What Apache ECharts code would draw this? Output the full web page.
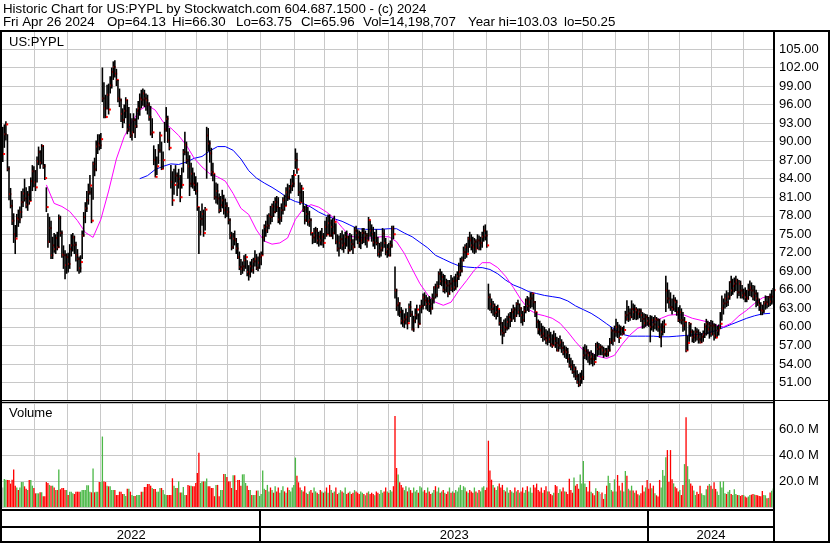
<!DOCTYPE html>
<html><head><meta charset="utf-8">
<script src="https://cdn.jsdelivr.net/npm/echarts/dist/echarts.min.js"></script>
<style>html,body{margin:0;padding:0;background:#fff}#c{width:830px;height:543px}</style>
</head><body><div id="c"></div>
<script>
// ---- Data (daily bars, May 2022 - Apr 26 2024) ----
const highs=[
92.4,92.8,93.3,91.2,86.0,82.5,80.6,78.4,76.5,78.3,
79.0,79.5,82.0,82.4,84.0,82.6,82.0,82.8,84.2,86.2,
86.0,85.4,87.6,89.2,88.6,89.6,89.4,86.4,82.6,78.4,
77.8,77.2,74.6,75.2,75.0,75.4,78.2,78.0,75.6,73.2,
72.4,71.9,72.0,73.4,75.0,75.2,74.8,73.8,72.6,71.4,
71.6,75.6,78.6,80.2,82.0,83.2,84.6,82.6,86.8,87.4,
90.2,91.2,91.2,91.4,102.0,99.6,97.6,99.2,99.4,100.6,
102.0,103.0,103.2,101.8,100.0,98.6,97.0,95.4,96.0,97.2,
96.8,95.6,94.6,93.8,94.6,93.8,95.4,96.6,97.8,98.4,
98.6,98.4,97.8,97.6,96.4,95.8,93.8,89.4,88.8,87.6,
89.6,91.6,90.0,88.4,93.2,95.6,94.2,92.2,86.2,85.2,
85.6,86.2,85.0,85.6,84.6,85.8,88.8,91.6,90.0,88.4,
87.8,86.6,85.8,85.0,84.4,83.4,79.4,78.8,80.0,79.0,
79.4,92.4,92.2,90.2,89.0,86.6,84.8,83.4,83.2,81.6,
81.2,82.2,81.4,80.8,80.2,79.4,77.6,75.4,75.2,75.6,
74.4,73.6,72.2,71.0,70.6,71.6,71.8,70.8,70.0,70.6,
71.0,71.2,72.4,71.8,71.4,72.0,72.2,75.8,76.6,77.2,
78.2,78.4,79.6,80.0,80.4,81.0,81.2,81.0,79.4,80.0,
81.0,81.4,82.6,83.2,83.0,84.0,84.6,85.4,88.9,88.2,
84.6,83.4,83.0,82.0,79.6,79.8,79.4,78.8,77.6,75.2,
76.0,76.2,76.0,75.4,75.6,76.0,75.2,77.2,77.8,78.2,
78.2,77.4,77.6,78.0,76.8,75.0,74.8,75.2,75.6,75.0,
75.4,75.6,74.8,75.2,75.0,74.2,76.2,76.4,75.8,75.6,
75.4,76.0,76.0,75.6,75.2,77.8,77.2,76.6,76.2,75.4,
75.8,74.6,73.6,73.8,76.0,75.8,74.4,73.4,73.6,74.0,
76.4,76.4,69.8,66.2,64.8,64.0,63.2,62.8,62.2,63.0,
62.4,63.8,64.2,62.6,61.8,63.0,63.6,62.2,63.6,64.4,
65.4,65.6,65.2,64.8,65.0,64.6,65.4,66.6,67.0,67.4,
69.0,69.4,69.0,68.6,68.4,67.8,67.6,67.6,68.4,68.0,
68.2,68.6,69.0,70.4,71.2,71.4,73.0,73.4,73.6,74.6,
75.4,75.0,74.6,74.4,74.2,75.0,74.8,74.6,75.4,76.4,
76.6,75.6,67.0,65.4,64.6,64.2,63.8,63.4,63.6,62.8,
61.6,60.8,61.2,61.4,61.8,62.2,62.4,63.0,63.6,63.2,
64.0,64.4,63.8,63.2,62.6,63.4,64.6,65.0,64.8,65.6,
65.6,65.4,64.2,62.4,61.2,61.0,60.6,60.2,60.0,59.6,
59.4,59.8,59.2,58.8,59.4,59.0,58.4,58.2,58.6,58.0,
57.6,57.0,56.8,56.6,55.6,55.0,54.6,54.0,53.6,53.0,
52.4,52.6,53.0,56.8,57.2,57.0,56.4,56.0,56.2,55.8,
55.6,57.4,57.6,57.4,57.2,57.0,56.8,56.6,56.6,57.0,
58.2,60.0,59.6,60.2,61.3,60.8,60.4,60.2,60.0,60.2,
62.6,64.3,63.4,63.0,64.3,63.8,63.6,63.2,63.0,63.0,
63.0,62.4,62.2,62.1,62.0,61.6,61.9,61.8,61.6,61.9,
61.6,61.4,61.3,60.6,61.0,61.2,68.3,67.2,66.0,65.6,
64.6,65.2,64.8,64.4,63.2,63.5,63.0,62.4,61.6,60.8,
58.6,60.8,60.6,59.6,59.4,60.0,59.8,59.6,59.2,59.0,
59.4,60.6,61.3,61.0,60.8,61.1,61.0,60.6,60.5,60.2,
60.4,62.4,65.1,64.6,65.4,65.9,65.6,67.4,68.3,67.8,
68.0,68.3,67.8,67.6,67.5,66.8,66.2,66.4,66.0,67.0,
67.5,67.2,66.8,66.7,66.0,65.6,64.6,64.0,63.6,64.2,
65.1,65.0,65.0,65.4,66.0,66.3];
const lows=[
86.7,89.0,90.2,85.2,80.5,79.2,76.5,73.6,71.8,74.5,
76.2,76.8,77.6,79.4,80.3,79.2,78.8,79.8,80.4,82.0,
82.6,82.0,83.4,86.2,85.6,86.3,85.6,83.8,78.6,72.8,
73.6,71.0,71.0,72.0,71.8,72.4,72.8,74.6,71.2,69.4,
67.7,68.6,68.8,69.4,71.4,72.2,71.8,70.6,69.0,68.6,
68.8,71.0,74.6,76.8,78.6,79.8,81.4,76.8,80.6,84.4,
85.2,88.0,88.6,88.8,96.4,93.8,93.8,95.2,94.4,97.8,
98.6,100.0,100.4,99.0,96.4,95.6,93.2,92.2,93.0,93.8,
91.2,91.6,90.6,90.2,91.4,90.6,92.2,93.6,94.2,95.4,
95.8,95.6,95.0,94.4,93.4,91.0,90.6,86.2,84.2,84.6,
86.4,88.2,85.4,85.6,89.8,91.6,89.8,88.6,82.4,79.6,
81.4,83.4,81.2,82.4,80.2,82.4,85.0,87.8,86.4,84.0,
81.2,82.6,82.4,82.0,81.4,78.8,71.8,74.8,76.4,74.6,
75.6,84.0,88.4,86.6,84.4,83.6,80.6,80.0,79.8,78.4,
78.6,79.2,78.2,77.6,77.8,76.6,74.2,72.4,72.6,73.2,
71.8,71.0,69.2,68.4,68.6,69.0,69.4,68.2,67.5,68.0,
68.8,68.6,69.8,69.2,69.0,69.4,70.0,71.6,73.8,74.6,
75.2,75.8,76.6,77.0,77.8,78.4,78.6,76.8,76.6,77.0,
78.2,78.8,79.6,80.4,80.6,81.6,82.0,82.6,85.6,84.8,
81.2,79.8,80.2,78.6,76.6,77.0,76.4,76.2,74.8,73.4,
73.6,73.6,73.4,73.0,73.2,73.2,72.8,74.2,74.6,75.0,
74.6,74.6,74.2,75.0,73.4,72.2,71.4,72.6,72.4,72.0,
72.6,73.0,71.8,72.2,72.4,71.8,72.8,74.0,73.4,72.8,
72.6,73.4,73.6,73.2,72.8,74.0,74.6,73.8,73.0,72.6,
73.2,71.4,71.2,71.4,72.2,72.8,71.6,71.2,71.4,71.4,
72.8,74.2,64.6,62.6,61.8,61.6,60.4,60.0,59.8,60.4,
59.6,60.8,61.6,59.4,59.2,60.6,61.2,59.8,60.4,62.2,
62.8,63.4,62.8,62.6,62.4,62.0,62.8,63.8,64.6,64.8,
66.2,66.8,66.6,65.6,65.4,65.6,64.8,65.2,65.8,65.6,
65.8,66.0,66.4,67.6,68.2,68.8,70.6,71.0,71.2,72.0,
72.8,72.4,72.0,71.8,72.0,72.6,72.4,72.4,72.8,73.8,
74.0,72.8,62.8,62.6,62.2,61.8,61.6,61.2,61.6,60.2,
58.6,57.2,58.4,59.0,59.4,59.6,60.0,60.8,61.2,60.8,
61.6,62.0,61.6,60.6,60.2,60.8,62.2,62.6,62.4,63.0,
63.2,62.8,61.6,59.8,58.8,58.6,58.2,57.6,57.8,57.2,
57.0,57.4,56.8,56.6,57.0,56.6,56.0,56.0,56.4,55.8,
55.4,55.0,54.8,54.2,53.4,53.0,52.4,51.8,51.4,50.8,
50.25,50.4,50.8,51.4,54.8,54.6,54.2,53.8,54.0,53.6,
53.8,54.6,55.2,55.4,55.4,55.4,55.0,55.2,55.1,55.2,
56.0,57.2,57.0,57.6,58.4,58.2,57.4,58.6,58.6,58.8,
60.5,61.0,60.8,61.0,61.4,61.1,61.2,61.1,61.2,61.4,
60.8,59.7,59.8,60.0,60.2,60.0,57.5,59.4,59.2,59.6,
59.4,59.2,58.2,56.7,58.6,59.0,62.4,63.8,63.0,62.6,
62.0,62.6,62.4,61.8,60.8,60.6,60.4,59.2,59.4,55.9,
56.2,57.6,58.4,57.5,57.4,57.6,57.8,57.3,57.3,57.4,
57.6,58.2,58.6,58.8,58.1,58.4,58.6,57.8,58.1,58.4,
58.6,59.7,61.0,62.0,63.0,63.2,63.4,64.4,65.0,65.2,
65.6,65.8,64.6,65.0,64.6,64.6,64.4,64.0,64.0,64.4,
65.0,64.8,64.3,64.2,63.2,63.4,62.6,61.9,61.9,62.2,
62.8,63.0,63.2,63.4,63.6,63.75];
const closes=[
88.0,91.2,92.8,85.6,81.5,79.6,77.2,75.0,74.3,77.6,
77.4,78.6,80.2,81.6,80.8,79.8,81.4,80.4,83.6,85.2,
83.4,82.6,86.8,88.3,86.6,89.3,86.0,84.1,79.4,73.8,
76.0,71.6,73.2,72.6,74.4,72.9,77.6,75.2,71.7,71.6,
70.0,71.3,70.2,72.6,73.2,74.5,73.3,71.6,71.0,69.5,
70.5,74.8,77.8,79.2,80.5,81.8,82.9,77.2,86.4,85.5,
89.2,89.7,89.4,90.4,97.0,95.4,94.0,97.6,95.2,99.1,
101.3,102.1,101.0,100.0,97.0,96.7,94.5,93.5,95.0,96.7,
92.0,92.7,91.0,91.5,93.5,92.5,95.0,95.4,97.0,96.8,
97.8,97.0,96.7,96.0,94.0,91.3,91.5,87.0,84.3,86.0,
88.6,91.0,85.6,87.0,92.0,93.7,90.2,89.0,83.5,80.5,
83.0,84.5,83.2,84.0,81.0,83.0,88.3,89.5,87.0,86.0,
83.2,84.8,83.2,83.0,82.0,79.4,75.4,77.5,78.3,75.2,
79.0,91.0,89.7,88.1,85.1,84.8,81.0,82.0,80.8,78.9,
79.7,80.5,78.9,79.6,78.6,77.3,74.8,72.9,74.3,74.0,
72.7,71.3,69.7,69.4,69.8,70.8,71.3,68.9,68.6,69.8,
69.2,70.6,71.0,69.6,70.4,71.3,71.6,74.5,76.2,75.6,
76.4,78.0,77.8,79.5,78.6,80.2,79.4,77.4,77.7,78.9,
80.5,79.6,81.8,81.0,82.4,82.8,83.2,84.6,87.0,85.5,
81.8,80.2,82.4,79.0,77.3,78.3,77.0,77.3,75.2,74.5,
74.8,75.6,74.0,74.6,74.0,74.6,73.6,76.2,75.0,76.8,
74.8,76.2,75.2,77.0,73.8,72.7,73.6,74.2,73.2,73.5,
74.6,74.5,72.4,74.0,73.4,72.9,75.6,75.2,74.5,73.6,
74.0,75.2,74.3,74.8,74.0,77.3,75.6,75.0,73.7,74.4,
73.6,71.8,72.4,72.8,75.1,73.6,72.1,72.6,71.6,73.2,
75.9,75.0,65.9,63.5,63.8,62.4,61.0,60.8,61.2,61.6,
60.6,63.2,62.0,59.6,61.0,61.9,62.8,60.5,63.2,63.4,
64.8,64.3,63.7,64.2,63.7,63.0,64.6,66.4,65.2,66.6,
68.6,67.4,68.1,66.0,67.2,66.7,65.4,67.0,66.2,67.4,
66.4,67.5,68.2,68.9,69.1,70.8,72.1,72.9,71.8,74.3,
74.0,73.2,72.9,73.8,72.7,74.0,73.2,73.6,74.6,75.6,
74.8,73.2,64.8,63.7,62.9,63.4,62.2,62.4,62.9,60.6,
59.4,59.0,60.0,59.8,60.8,61.6,61.2,62.4,62.8,61.8,
63.7,62.4,63.0,61.9,61.1,62.6,64.3,63.4,64.0,64.6,
65.4,64.0,62.4,60.8,59.6,59.4,58.6,58.9,58.2,57.8,
58.6,58.0,57.2,57.0,58.1,57.4,56.2,57.0,57.5,56.6,
55.9,56.2,55.9,54.8,53.8,53.5,52.7,53.2,52.0,51.1,
50.6,51.6,51.9,55.4,56.2,55.8,55.4,54.8,55.2,54.8,
54.3,57.0,56.4,56.7,56.7,56.2,55.6,56.0,55.6,56.2,
57.5,59.4,57.8,59.2,60.0,59.2,58.2,59.7,58.9,59.5,
61.9,61.3,62.2,61.6,62.9,62.4,62.9,62.7,62.1,62.5,
61.9,61.3,60.6,61.6,61.0,60.5,60.0,61.1,60.4,61.3,
61.1,60.0,58.3,59.2,60.0,60.4,65.9,64.6,64.0,63.2,
62.9,64.3,64.0,62.4,61.1,62.4,61.1,60.2,60.8,56.2,
57.4,60.5,59.2,58.3,58.6,59.2,58.6,58.0,57.5,58.4,
58.8,60.0,60.5,59.6,60.2,58.9,60.2,58.6,58.3,59.4,
59.8,60.5,63.0,63.8,64.6,64.0,64.9,67.3,65.9,66.6,
67.0,67.5,65.6,67.0,65.9,65.1,65.4,64.8,64.6,66.0,
66.4,65.9,64.9,65.4,64.6,64.0,63.5,62.7,62.6,63.8,
64.0,63.7,64.8,64.1,64.9,65.96];
// volume in millions of shares: 2022 part, 2023 part (to end Sep), then Oct 2023 - Apr 2024
const volumes2022=[
15,21.5,21,20.8,20.8,18,21,28.8,16.4,15,
13.1,15,19.2,19.2,15.9,14,13.1,20.8,20.8,16.4,
14.6,10.5,10.5,10.5,11.3,11.3,8.3,8.3,19.2,18.5,
17,16.4,16.4,15,13.1,13.1,28.8,13.6,14.6,14.6,
13.1,13.1,9.2,11.8,11.8,10.5,10,11.8,11.8,11.8,
11.8,13.1,13.1,13.1,16.7,16.7,11.8,11.3,29.7,11.3,
11.8,11.8,19.2,19.2,54.2,19.7,19.2,16.4,15.9,15.9,
13.1,13.1,13.1,9.2,9.2,11.8,11.8,10,10,8.5,
14,14,11.8,9.2,8.5,8.5,9.2,9.2,9.2,11.8,
11.8,15.4,15.4,17.7,17.7,16.4,14.6,13.8,13.8,11.8,
11.8,14.6,14.6,13.1,9.8,9.2,9.2,9.2,9.2,22.1,
16.4,14.6,14.6,19.7,11.1,11.1,15.4,9.2,9.2,17,
16.4,16.4,15.9,15.9,18.5,26.2,41.8,18.5,19.7,19.7,
19.7,22,15.9,15.9,14.6,14.6,8.3,17,17,8.3,
13.1,13.1,25.4,25.4,23.1,19.7,19.7,14.6,24.4,24.4,
13.1,20.8,20.8,16.4,25.1,25.1,18.5,16.4,13.1,13.1,
9.2,9.2,9.2,12.6,12.6,8.5];
const volumes2023a=[
10,28,14,13,17,12,15,13,11,16,12,15,11,13,16,12,11,15,13,12,15,17,
38,24,19,15,13,12,16,11,10,12,13,11,15,12,11,10,13,12,11,
12,15,11,17,13,11,12,15,10,11,13,12,11,15,10,11,12,10,11,13,12,
11,10,12,11,10,9,11,12,10,11,10,9,12,11,10,13,11,12,15,12,
11,13,12,16,70,30,25,19,17,15,13,16,12,15,13,11,15,12,13,11,16,15,
12,13,11,15,12,10,11,13,16,12,15,11,12,13,11,10,12,15,11,12,
11,13,12,15,17,13,16,15,12,11,13,12,11,15,12,11,13,12,15,16,13,
15,51,28,21,17,15,13,16,18,15,17,13,12,15,11,13,12,11,15,12,13,11,
12,15,11,13,16,12,15,11,17,15,18,13,12,15,11,13,16,12,
12];
const volumesLate=[
10,9,11,17,15.9,10.8,13.6,12,
15,12,11.8,10,21.8,13.1,11,22.6,16.4,17.7,
14,25,18,35.3,18,15.4,12,20,11.8,10.5,
9,14.4,12.3,11.8,10,11.1,6.2,10,16.4,24,
18.5,13.1,12,21.3,12,24.6,16.4,12.6,18.7,12,
27.7,24.1,14,12.6,16.4,12.6,11,12.6,9.9,9,
10.5,16.7,12,15.1,20.8,14,18.2,14.4,16.4,10.5,
9,8,20.8,15,28.5,24,38.2,43.8,19.2,43.8,
21.3,18.2,15.6,14.4,12,13.1,9.2,17,33,69,
31.4,21.3,18,16.4,12.6,9.2,11.8,10,16.4,10.5,
9.2,9,13.6,16.4,17.7,16.4,14,19,13.9,12,
9.2,19.7,15,19.7,10.5,10,11.8,13.1,10,9.2,
13.6,10,9.2,9.2,8.5,9.2,9.2,8,7.4,8,
9.2,9.5,10,9.6,9.2,9,8.5,8.2,12.3,9.2,
9,6.7,7,11.1,12.5,14.2];
const maStep=5;
const maFastStart=28;
const maFast=[83.0,80.0,79.5,78.7,77.2,75.3,74.5,77.4,82.0,87.2,90.8,93.2,95.1,95.9,95.1,93.2,92.2,91.0,89.4,87.3,
85.9,84.8,84.3,83.6,81.6,79.2,78.2,75.7,73.9,73.4,73.6,74.4,77.4,79.1,79.8,79.4,78.6,77.6,76.1,74.7,
74.5,74.4,74.4,74.6,74.6,73.8,71.9,69.4,67.0,65.2,64.0,63.5,64.0,65.9,67.5,69.2,70.4,70.4,69.6,68.2,
66.4,64.4,62.8,62.1,61.8,61.4,60.6,59.2,57.6,56.2,55.8,55.2,54.9,55.4,57.2,58.7,59.8,60.2,60.8,61.4,
61.9,62.0,61.9,61.4,61.1,60.8,60.3,60.0,60.6,61.8,62.7,63.8,64.7,65.0];
const maSlowStart=88;
const maSlow=[84.0,84.5,85.5,86.0,86.4,86.3,86.7,87.3,87.6,88.5,89.2,89.2,88.6,87.2,85.3,84.1,83.3,82.6,81.8,80.9,
80.3,80.0,79.4,78.6,78.0,77.5,77.1,76.5,75.9,75.8,75.8,75.8,75.9,75.9,75.2,74.6,73.7,72.8,71.6,71.0,
70.4,69.9,69.7,69.6,69.6,69.3,68.6,67.6,66.8,66.3,65.7,65.4,65.1,64.9,64.7,64.2,63.4,62.8,62.2,61.4,
60.5,59.6,58.8,58.5,58.5,58.5,58.5,58.4,58.4,58.5,58.6,58.7,58.8,59.0,59.4,59.9,60.4,60.9,61.4,61.8,
62.1,62.2];
// trading days per month (May 2022 .. Apr 2024) and years
const monthDays=[21,21,21,21,21,20,20,21, 22,19,21,20,22,20,21,22,18,22,21,21, 20,21,20,20];
const yearMonths=[8,12,4];
const yearLabels=['2022','2023','2024'];
const priceTicks=[51,54,57,60,63,66,69,72,75,78,81,84,87,90,93,96,99,102,105];
const volTicks=[20,40,60];
const headerLine1='Historic Chart for US:PYPL by Stockwatch.com 604.687.1500 - (c) 2024';
const headerLine2=['Fri Apr 26 2024','Op=64.13','Hi=66.30','Lo=63.75','Cl=65.96','Vol=14,198,707','Year hi=103.03','lo=50.25'];
const headerLine2X=[3,107,172,236,301,363,468,564];

// ---- Chart ----
const volumes=volumes2022.concat(volumes2023a,volumesLate);
const FONT='Arial, "Liberation Sans", sans-serif';
const cats=closes.map((_,i)=>String(i));
const monthStart=new Set();
let acc=0; monthDays.forEach(d=>{acc+=d; monthStart.add(acc);});
const yearBounds=[0]; {let m=0,a=0; yearMonths.forEach(k=>{for(let j=0;j<k;j++){a+=monthDays[m++];} yearBounds.push(a);});}
const GRID='#c8c8c8';
const volColor=closes.map((c,i)=> i===0? '#b4b4b4' : (c>closes[i-1]? '#4cb848' : (c<closes[i-1]? '#ff0000' : '#b4b4b4')));

function xAxisCfg(g){return {type:'category',gridIndex:g,data:cats,boundaryGap:true,
  axisLine:{show:false},axisTick:{show:false},axisLabel:{show:false},
  splitLine:{show:true,interval:(i)=>monthStart.has(i),lineStyle:{color:GRID,width:1}}};}

const chart=echarts.init(document.getElementById('c'),null,{renderer:'canvas'});
chart.setOption({
  animation:false,
  backgroundColor:'#ffffff',
  grid:[
    {left:2,right:56,top:30.5,height:370.5,outerBoundsMode:'none'},
    {left:2,right:56,top:403,height:104,outerBoundsMode:'none'}
  ],
  xAxis:[xAxisCfg(0),xAxisCfg(1)],
  yAxis:[
    {type:'value',gridIndex:0,position:'right',min:48,max:108,interval:3,
     axisLine:{show:false},axisTick:{show:false},
     axisLabel:{margin:5,color:'#000',fontSize:13,fontFamily:FONT,
       formatter:v=>priceTicks.includes(Math.round(v))?v.toFixed(2):''},
     splitLine:{show:true,lineStyle:{color:GRID,width:1}}},
    {type:'value',gridIndex:1,position:'right',min:0,max:80,interval:20,
     axisLine:{show:false},axisTick:{show:false},
     axisLabel:{margin:5,color:'#000',fontSize:13,fontFamily:FONT,
       formatter:v=>volTicks.includes(Math.round(v))?v.toFixed(1)+' M':''},
     splitLine:{show:true,lineStyle:{color:GRID,width:1}}}
  ],
  series:[
    {type:'line',xAxisIndex:0,yAxisIndex:0,silent:true,showSymbol:false,z:3,
     data:maSlow.map((v,k)=>[maSlowStart+k*maStep,v]),lineStyle:{color:'#0000ff',width:1}},
    {type:'line',xAxisIndex:0,yAxisIndex:0,silent:true,showSymbol:false,z:3,
     data:maFast.map((v,k)=>[maFastStart+k*maStep,v]),lineStyle:{color:'#ff00ff',width:1}},
    {type:'custom',xAxisIndex:0,yAxisIndex:0,silent:true,z:4,
     data:closes.map((c,i)=>[i,lows[i],highs[i],c]),
     encode:{x:0,y:[1,2,3]},
     renderItem:(params,api)=>{
       const x=api.value(0);
       const lo=api.coord([x,api.value(1)]);
       const hi=api.coord([x,api.value(2)]);
       const cl=api.coord([x,api.value(3)]);
       return {type:'group',children:[
         {type:'line',shape:{x1:lo[0],y1:lo[1],x2:hi[0],y2:hi[1]},style:{stroke:'#000',lineWidth:1.6}},
         {type:'rect',shape:{x:cl[0]+0.3,y:cl[1]-1,width:2,height:2},style:{fill:'#ff0000'}}
       ]};
     }},
    {type:'bar',xAxisIndex:1,yAxisIndex:1,silent:true,barCategoryGap:'15%',
     data:volumes.map((v,i)=>({value:v,itemStyle:{color:volColor[i]}}))}
  ]
});

// frame, header and year band
const px=i=>chart.convertToPixel({xAxisIndex:0},i);
const band=px(1)-px(0);
const bx=i=>px(0)+(i-0.5)*band;
const g=[];
const blk={fill:'#000'};
g.push({type:'rect',shape:{x:0,y:30,width:830,height:2},style:blk,z:100});
g.push({type:'rect',shape:{x:0,y:30,width:2,height:513},style:blk,z:100});
g.push({type:'rect',shape:{x:828,y:30,width:2,height:513},style:blk,z:100});
g.push({type:'rect',shape:{x:773,y:30,width:2,height:513},style:blk,z:100});
g.push({type:'rect',shape:{x:0,y:400,width:830,height:1},style:blk,z:100});
g.push({type:'rect',shape:{x:0,y:402,width:775,height:1},style:blk,z:100});
g.push({type:'rect',shape:{x:0,y:509,width:775,height:2},style:blk,z:100});
g.push({type:'rect',shape:{x:0,y:526,width:775,height:2},style:blk,z:100});
g.push({type:'rect',shape:{x:0,y:541,width:830,height:2},style:blk,z:100});
for(let k=1;k<yearBounds.length-1;k++){
  const x=Math.round(bx(yearBounds[k]))-1;
  g.push({type:'rect',shape:{x:x,y:510,width:2,height:32},style:blk,z:100});
}
for(let k=0;k<yearLabels.length;k++){
  const a=k===0?2:bx(yearBounds[k]);
  const b=k===yearLabels.length-1?774:bx(yearBounds[k+1]);
  g.push({type:'text',style:{text:yearLabels[k],x:(a+b)/2,y:535,align:'center',verticalAlign:'middle',font:'13px '+FONT,fill:'#000'},z:101});
}
g.push({type:'text',style:{text:headerLine1,x:3,y:9,verticalAlign:'middle',font:'13.3px '+FONT,fill:'#000'},z:101});
headerLine2.forEach((t,k)=>g.push({type:'text',style:{text:t,x:headerLine2X[k],y:22,verticalAlign:'middle',font:'13.3px '+FONT,fill:'#000'},z:101}));
g.push({type:'text',style:{text:'US:PYPL',x:9,y:42,verticalAlign:'middle',font:'13px '+FONT,fill:'#000'},z:101});
g.push({type:'text',style:{text:'Volume',x:9,y:413,verticalAlign:'middle',font:'13px '+FONT,fill:'#000'},z:101});
chart.setOption({graphic:g});
</script></body></html>
